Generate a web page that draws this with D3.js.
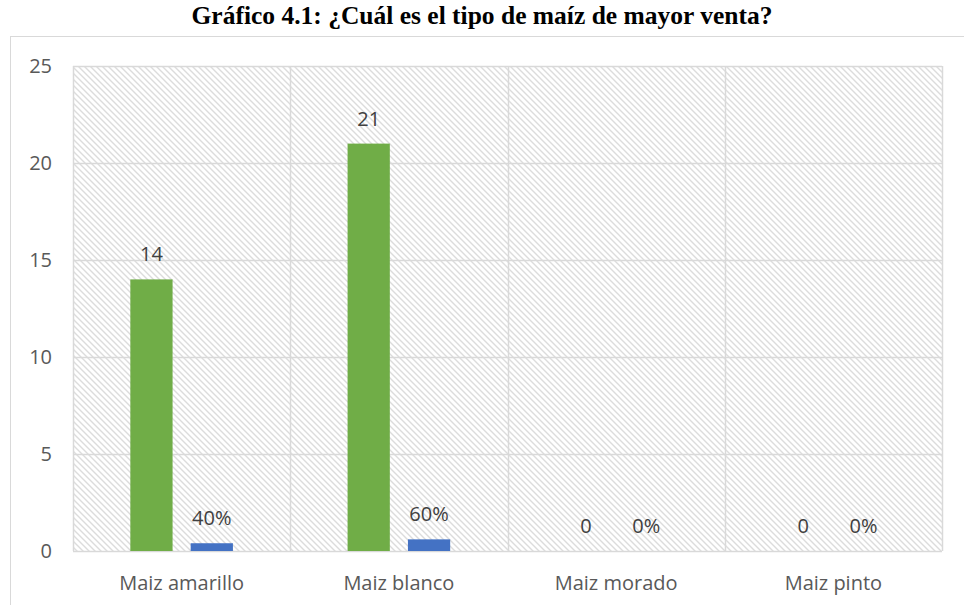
<!DOCTYPE html>
<html>
<head>
<meta charset="utf-8">
<script src="https://cdn.jsdelivr.net/npm/d3@7"></script>
<style>
body { margin: 0; background: #fff; }
svg { display: block; }
</style>
</head>
<body>
<svg id="chart" width="964" height="605"></svg>
<script>
const title = "Gráfico 4.1: ¿Cuál es el tipo de maíz de mayor venta?";
const categories = ["Maiz amarillo", "Maiz blanco", "Maiz morado", "Maiz pinto"];
const counts = [14, 21, 0, 0];
const shares = [0.4, 0.6, 0, 0];
const shareLabels = ["40%", "60%", "0%", "0%"];
const yTicks = [0, 5, 10, 15, 20, 25];

const svg = d3.select("#chart");
const W = 964, H = 605;
const m = { left: 73, right: 22, top: 66, bottom: 54 };

const defs = svg.append("defs");
const pat = defs.append("pattern")
  .attr("id", "hatch").attr("patternUnits", "userSpaceOnUse")
  .attr("width", 6).attr("height", 6);
pat.append("path").attr("d", "M-1,-1 L7,7 M-7,-1 L1,7 M5,-1 L13,7")
  .attr("stroke", "#dcdcdc").attr("stroke-width", 1.4);

// chart area border
svg.append("rect").attr("x", 10.5).attr("y", 36.5).attr("width", 970).attr("height", 600)
  .attr("fill", "#fff").attr("stroke", "#d9d9d9").attr("stroke-width", 1);

svg.append("text").attr("x", 482).attr("y", 24).attr("text-anchor", "middle")
  .attr("font-family", "'Liberation Serif', 'Times New Roman', serif")
  .attr("font-weight", "bold").attr("font-size", 25.5).attr("fill", "#000")
  .text(title);

const x0 = d3.scaleBand().domain(categories).range([m.left, W - m.right]).padding(0);
const y = d3.scaleLinear().domain([0, 25]).range([H - m.bottom, m.top]);

// plot background hatch
svg.append("rect").attr("x", m.left).attr("y", m.top)
  .attr("width", W - m.right - m.left).attr("height", H - m.bottom - m.top)
  .attr("fill", "url(#hatch)");

// horizontal gridlines
svg.append("g").selectAll("line").data(yTicks).join("line")
  .attr("x1", m.left).attr("x2", W - m.right)
  .attr("y1", d => Math.round(y(d)) + 0.5).attr("y2", d => Math.round(y(d)) + 0.5)
  .attr("stroke", "#d9d9d9").attr("stroke-width", 1.5);

// vertical category separators
const seps = categories.map(c => x0(c)).concat([W - m.right]);
svg.append("g").selectAll("line").data(seps).join("line")
  .attr("x1", d => Math.round(d) + 0.5).attr("x2", d => Math.round(d) + 0.5)
  .attr("y1", m.top).attr("y2", H - m.bottom)
  .attr("stroke", "#d9d9d9").attr("stroke-width", 1.5);

const x1 = d3.scaleBand().domain(["count", "share"]).range([0, x0.bandwidth()])
  .paddingInner(0.3).paddingOuter(0.95);

const labelFont = "'Open Sans', 'Noto Sans', sans-serif";
const fs = 20;

const data = categories.map((c, i) => ({ c, count: counts[i], share: shares[i], shareLabel: shareLabels[i] }));

const g = svg.append("g");
g.selectAll("rect.count").data(data).join("rect").attr("class", "count")
  .attr("x", d => x0(d.c) + x1("count")).attr("width", x1.bandwidth())
  .attr("y", d => y(d.count)).attr("height", d => y(0) - y(d.count))
  .attr("fill", "#70ad47");
g.selectAll("rect.share").data(data).join("rect").attr("class", "share")
  .attr("x", d => x0(d.c) + x1("share")).attr("width", x1.bandwidth())
  .attr("y", d => y(d.share)).attr("height", d => y(0) - y(d.share))
  .attr("fill", "#4472c4");

g.selectAll("text.count").data(data).join("text").attr("class", "count")
  .attr("x", d => x0(d.c) + x1("count") + x1.bandwidth() / 2)
  .attr("y", d => y(d.count) - 18).attr("text-anchor", "middle")
  .attr("font-family", labelFont).attr("font-size", fs).attr("fill", "#404040")
  .text(d => d.count);
g.selectAll("text.share").data(data).join("text").attr("class", "share")
  .attr("x", d => x0(d.c) + x1("share") + x1.bandwidth() / 2)
  .attr("y", d => y(d.share) - 18).attr("text-anchor", "middle")
  .attr("font-family", labelFont).attr("font-size", fs).attr("fill", "#404040")
  .text(d => d.shareLabel);

// y axis
const yAxis = d3.axisLeft(y).tickValues(yTicks).tickSize(0).tickPadding(21);
const ya = svg.append("g").attr("transform", `translate(${m.left},0)`).call(yAxis);
ya.select(".domain").remove();
ya.selectAll("text").attr("font-family", labelFont).attr("font-size", fs).attr("fill", "#595959");

// x axis
const xAxis = d3.axisBottom(x0).tickSize(0).tickPadding(25);
const xa = svg.append("g").attr("transform", `translate(0,${H - m.bottom})`).call(xAxis);
xa.select(".domain").remove();
xa.selectAll("text").attr("font-family", labelFont).attr("font-size", fs).attr("fill", "#595959");
</script>
</body>
</html>
